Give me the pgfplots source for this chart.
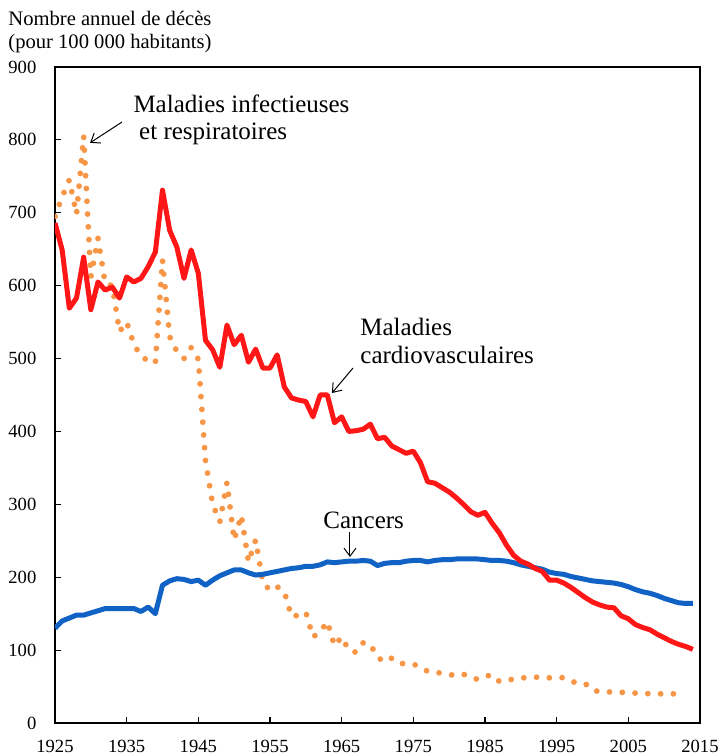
\documentclass[border=0pt]{standalone}
\usepackage{fontspec}
\setmainfont{Liberation Serif}
\usepackage{pgfplots}
\pgfplotsset{compat=1.18}
\usetikzlibrary{arrows.meta}
\definecolor{cvred}{RGB}{255,22,22}
\definecolor{cablue}{RGB}{16,99,196}
\definecolor{inforange}{RGB}{247,150,70}

\pgfplotstableread{
year val
1925 686
1926 649
1927 569
1928 583
1929 639
1930 567
1931 605
1932 594
1933 598
1934 583
1935 612
1936 605
1937 610
1938 626
1939 646
1940 731
1941 676
1942 653
1943 610
1944 649
1945 617
1946 525
1947 512
1948 488
1949 546
1950 519
1951 532
1952 495
1953 513
1954 487
1955 487
1956 505
1957 461
1958 446
1959 443
1960 441
1961 420
1962 450
1963 450
1964 412
1965 420
1966 400
1967 401
1968 403
1969 410
1970 390
1971 392
1972 380
1973 375
1974 370
1975 373
1976 357
1977 331
1978 329
1979 323
1980 317
1981 309
1982 300
1983 290
1984 285
1985 289
1986 274
1987 261
1988 244
1989 230
1990 222
1991 218
1992 212
1993 208
1994 196
1995 196
1996 192
1997 186
1998 179
1999 172
2000 166
2001 162
2002 159
2003 158
2004 147
2005 143
2006 135
2007 131
2008 128
2009 122
2010 117
2011 112
2012 108
2013 105
2014 101
}\cardio

\pgfplotstableread{
year val
1925 130
1926 140
1927 144
1928 148
1929 148
1930 151
1931 154
1932 157
1933 157
1934 157
1935 157
1936 157
1937 153
1938 159
1939 150
1940 189
1941 195
1942 198
1943 197
1944 194
1945 196
1946 189
1947 196
1948 202
1949 206
1950 210
1951 210
1952 206
1953 203
1954 204
1955 206
1956 208
1957 210
1958 212
1959 213
1960 215
1961 215
1962 217
1963 221
1964 220
1965 221
1966 222
1967 222
1968 223
1969 222
1970 216
1971 219
1972 220
1973 220
1974 222
1975 223
1976 223
1977 221
1978 223
1979 224
1980 224
1981 225
1982 225
1983 225
1984 225
1985 224
1986 223
1987 223
1988 222
1989 220
1990 217
1991 215
1992 213
1993 211
1994 207
1995 205
1996 204
1997 201
1998 199
1999 197
2000 195
2001 194
2002 193
2003 192
2004 190
2005 187
2006 183
2007 180
2008 178
2009 175
2010 171
2011 168
2012 165
2013 164
2014 164
}\cancers

\pgfplotstableread{
year val
1925 695
1926 722
1927 745
1928 698
1929 805
1930 612
1931 665
1932 603
1933 600
1934 537
1935 550
1936 520
1937 503
1938 497
1939 494
1940 635
1941 530
1942 510
1943 500
1944 515
1945 499
1946 360
1947 300
1948 276
1949 330
1950 251
1951 285
1952 221
1953 251
1954 193
1955 182
1956 187
1957 180
1958 146
1959 148
1960 152
1961 118
1962 125
1963 139
1964 106
1965 118
1966 100
1967 97
1968 110
1969 108
1970 90
1971 84
1972 89
1973 82
1974 81
1975 81
1976 76
1977 71
1978 70
1979 68
1980 66
1981 66
1982 67
1983 62
1984 60
1985 64
1986 66
1987 57
1988 59
1989 60
1990 62
1991 62
1992 63
1993 62
1994 62
1995 63
1996 62
1997 57
1998 55
1999 54
2000 45
2001 43
2002 43
2003 42
2004 42
2005 42
2006 41
2007 41
2008 40
2009 40
2010 40
2011 40
2012 40
2013 39
}\infect

\begin{document}
\begin{tikzpicture}
\useasboundingbox (-27.5pt,-16.5pt) rectangle (332.5pt,361.5pt);
\begin{axis}[
  name=ax, anchor=south west, at={(0,0)},
  scale only axis, width=322.5pt, height=328pt,
  xmin=1925, xmax=2015, ymin=0, ymax=900,
  xtick={1925,1935,...,2015}, ytick={0,100,...,900},
  tick align=inside, xtick pos=bottom, ytick pos=left,
  major tick length=3pt,
  axis line style={line width=0.8pt},
  every tick/.style={black, line width=0.6pt},
  /pgf/number format/1000 sep={},
  /pgf/number format/assume math mode=true,
  tick label style={font=\fontsize{9.3}{11}\selectfont},
  yticklabel style={xshift=-5.8pt},
  xticklabel style={yshift=-5.2pt},
  clip mode=individual,
]
\addplot[inforange, line width=2.9pt, line cap=round, line join=round, dash pattern=on 0pt off 6.4pt] table[x=year,y=val] {\infect};
\addplot[cablue, line width=2.5pt, line join=round] table[x=year,y=val] {\cancers};
\addplot[cvred, line width=2.5pt, line join=round] table[x=year,y=val] {\cardio};

\node[anchor=base west, inner sep=0pt, font=\fontsize{12.5}{14}\selectfont] at (axis cs:1935.9,837) {Maladies infectieuses};
\node[anchor=base west, inner sep=0pt, font=\fontsize{12.5}{14}\selectfont] at (axis cs:1936.7,800) {et respiratoires};
\draw[-{Straight Barb[length=4pt,width=6pt]}, line width=0.5pt] (axis cs:1934.35,824.5) -- (axis cs:1929.9,796);

\node[anchor=base west, inner sep=0pt, font=\fontsize{12.5}{14}\selectfont] at (axis cs:1967.56,532.3) {Maladies};
\node[anchor=base west, inner sep=0pt, font=\fontsize{12.5}{14}\selectfont] at (axis cs:1967.56,493.9) {cardiovasculaires};
\draw[-{Straight Barb[length=4pt,width=6pt]}, line width=0.5pt] (axis cs:1966.58,487) -- (axis cs:1963.65,452.7);

\node[anchor=base west, inner sep=0pt, font=\fontsize{12.5}{14}\selectfont] at (axis cs:1962.4,267.5) {Cancers};
\draw[-{Straight Barb[length=4pt,width=6pt]}, line width=0.5pt] (axis cs:1966.16,262) -- (axis cs:1966.16,227.7);
\end{axis}
\node[anchor=north west, inner sep=0pt, align=left, font=\fontsize{10.3}{11.6}\selectfont] at ([xshift=-23.5pt, yshift=28pt]ax.north west) {Nombre annuel de décès\\(pour 100 000 habitants)};
\end{tikzpicture}
\end{document}
